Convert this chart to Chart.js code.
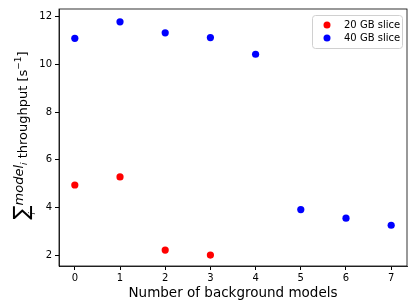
<!DOCTYPE html>
<html><head><meta charset="utf-8">
<style>html,body{margin:0;padding:0;background:#fff}#wrap{width:415px;height:308px}</style>
<script src="https://cdn.jsdelivr.net/npm/chart.js@4"></script>
</head><body><div id="wrap"><canvas id="c" width="415" height="308"></canvas></div>
<script>
const xRed = [0, 1, 2, 3];
const yRed = [4.94, 5.28, 2.21, 2.0];
const xBlue = [0, 1, 2, 3, 4, 5, 6, 7];
const yBlue = [11.1, 11.79, 11.33, 11.13, 10.43, 3.91, 3.55, 3.25];
const xTicks = [0, 1, 2, 3, 4, 5, 6, 7];
const yTicks = [2, 4, 6, 8, 10, 12];
const seriesNames = ['20 GB slice', '40 GB slice'];
const FONT = "'DejaVu Sans', sans-serif";

const pts = (xs, ys) => xs.map((x, i) => ({x: x, y: ys[i]}));

const deco = {
  id: 'deco',
  afterDraw(chart) {
    const ctx = chart.ctx, a = chart.chartArea;
    ctx.save();
    ctx.strokeStyle = '#000'; ctx.lineWidth = 0.8;
    ctx.strokeRect(a.left, a.top, a.right - a.left, a.bottom - a.top);
    // x title
    ctx.fillStyle = '#000';
    ctx.font = '13.5px ' + FONT;
    ctx.textAlign = 'center'; ctx.textBaseline = 'middle';
    ctx.fillText('Number of background models', (a.left + a.right) / 2, 293);
    // y title, rotated
    ctx.translate(22, (a.top + a.bottom) / 2 - 2);
    ctx.rotate(-Math.PI / 2);
    const parts = [
      {t: '\u2211', f: '21px ' + FONT, dy: 1},
      {t: 'model', f: 'italic 13px ' + FONT, dy: -4},
      {t: 'i', f: 'italic 9px ' + FONT, dy: 0},
      {t: ' throughput [s', f: '13px ' + FONT, dy: 0},
      {t: '\u22121', f: '9px ' + FONT, dy: -6},
      {t: ']', f: '13px ' + FONT, dy: 0}
    ];
    let w = 0;
    parts.forEach(p => { ctx.font = p.f; p.w = ctx.measureText(p.t).width; w += p.w; });
    let x = -w / 2;
    ctx.textAlign = 'left'; ctx.textBaseline = 'alphabetic';
    parts.forEach((p, k) => {
      ctx.font = p.f;
      ctx.fillText(p.t, x, 5 + p.dy);
      if (k === 0) { ctx.font = 'italic 8px ' + FONT; ctx.fillText('i', x + 5, 13); }
      x += p.w;
    });
    ctx.restore();
    // legend
    ctx.save();
    const bx = a.right - 95, by = a.top + 6, bw = 90, bh = 33;
    ctx.strokeStyle = '#d0d0d0'; ctx.lineWidth = 1; ctx.fillStyle = 'rgba(255,255,255,0.8)';
    ctx.beginPath(); ctx.roundRect(bx + 0.5, by + 0.5, bw, bh, 3); ctx.fill(); ctx.stroke();
    ctx.font = '10px ' + FONT; ctx.textBaseline = 'middle'; ctx.textAlign = 'left';
    chart.data.datasets.forEach((ds, i) => {
      const yy = by + 10 + i * 13;
      ctx.fillStyle = ds.backgroundColor;
      ctx.beginPath(); ctx.arc(bx + 15, yy, 3.5, 0, Math.PI * 2); ctx.fill();
      ctx.fillStyle = '#000';
      ctx.fillText(ds.label, bx + 32, yy);
    });
    ctx.restore();
  }
};

new Chart(document.getElementById('c'), {
  type: 'scatter',
  data: {datasets: [
    {label: seriesNames[0], data: pts(xRed, yRed), backgroundColor: '#ff0000', borderColor: '#ff0000', borderWidth: 0, pointRadius: 3.6, pointHoverRadius: 3.6},
    {label: seriesNames[1], data: pts(xBlue, yBlue), backgroundColor: '#0000ff', borderColor: '#0000ff', borderWidth: 0, pointRadius: 3.6, pointHoverRadius: 3.6}
  ]},
  options: {
    responsive: false, animation: false, devicePixelRatio: 1,
    layout: {padding: {left: 0, right: 8, top: 6, bottom: 0}},
    plugins: {legend: {display: false}, tooltip: {enabled: false}},
    scales: {
      x: {
        type: 'linear', min: -0.35, max: 7.35,
        afterBuildTicks: s => { s.ticks = xTicks.map(v => ({value: v})); },
        afterFit: s => { s.height = 42; },
        grid: {drawOnChartArea: false, drawTicks: true, tickLength: 4, tickColor: '#000'},
        border: {display: true, color: '#000', width: 0.8},
        ticks: {color: '#000', font: {family: FONT, size: 10}, padding: 2, maxRotation: 0}
      },
      y: {
        type: 'linear', min: 1.54, max: 12.33,
        afterBuildTicks: s => { s.ticks = yTicks.map(v => ({value: v})); },
        afterFit: s => { s.width = 59; },
        grid: {drawOnChartArea: false, drawTicks: true, tickLength: 4, tickColor: '#000'},
        border: {display: true, color: '#000', width: 0.8},
        ticks: {color: '#000', font: {family: FONT, size: 10}, padding: 3}
      }
    }
  },
  plugins: [deco]
});
</script></body></html>
